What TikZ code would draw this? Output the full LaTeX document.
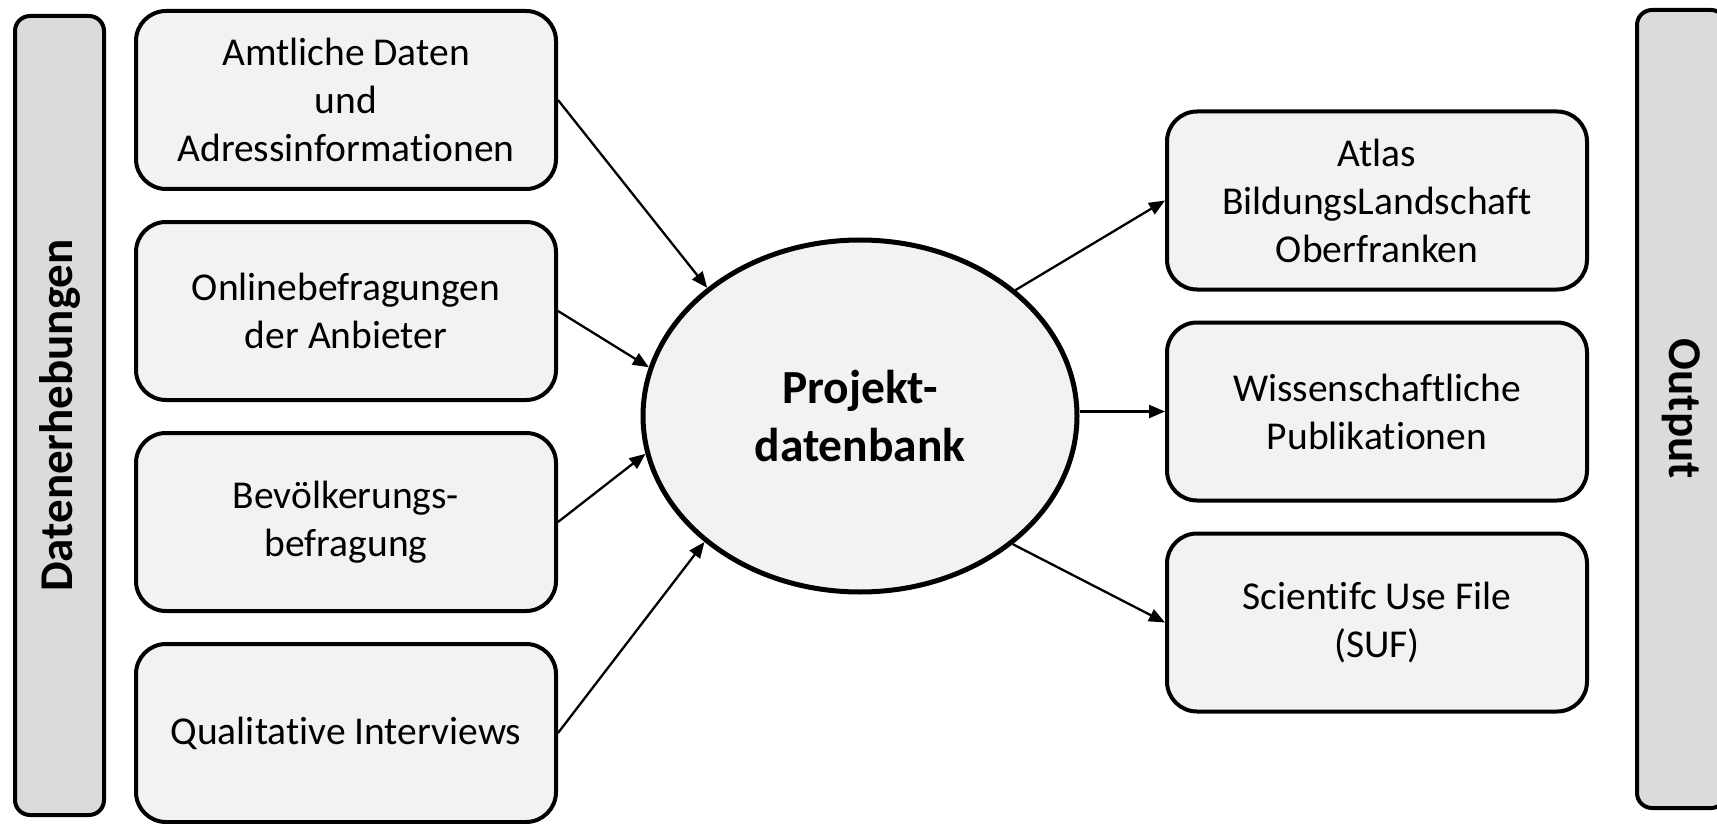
\documentclass[tikz,border=0pt]{standalone}
\usepackage{fontspec}
\setmainfont{Carlito}[Ligatures=CommonOff]
\usetikzlibrary{arrows.meta,shapes.geometric}
\definecolor{boxgray}{HTML}{F2F2F2}
\definecolor{bargray}{HTML}{DBDBDB}
\def \BoxW {420}
\def \BoxH {178}
\tikzstyle{quelle}=[
  draw=black,
  line width=4pt,
  fill=boxgray,
  rounded corners=30pt,
  minimum width=\BoxW,
  minimum height=\BoxH,
  align=center,
  font=\fontsize{39.5}{48}\selectfont
]
\tikzstyle{balken}=[
  draw=black,
  line width=4pt,
  fill=bargray,
  rounded corners=15pt,
  minimum height=89,
  font=\fontsize{47}{56}\selectfont\bfseries
]
\tikzstyle{datenbank}=[
  draw=black,
  ellipse,
  line width=5pt,
  fill=boxgray,
  minimum width=434,
  minimum height=352,
  align=center,
  font=\fontsize{47.5}{58}\selectfont\bfseries
]
\tikzstyle{pfeil}=[
  line width=2.3pt,
  -{Triangle[length=16pt,width=13pt]}
]

\begin{document}
\begin{tikzpicture}[x=1pt,y=-1pt]
  \def \xL {346}
  \def \xR {1377}
  \def \yOff {211}

  \useasboundingbox (0,0) rectangle (1717,824);
  \clip (0,0) rectangle (1717,824);

  \node[balken, rotate=90, minimum width=799] (dat) at (59.5, 415.5) {Datenerhebungen};
  \node[balken, rotate=-90, minimum width=798] (out) at (1681.5, 409) {Output};

  \node[quelle] (q1) at (\xL, 100) {Amtliche Daten\\und\\Adressinformationen};
  \node[quelle] (q2) at (\xL, 100 + \yOff) {Onlinebefragungen\\der Anbieter};
  \node[quelle] (q3) at (\xL, 100 + 2*\yOff) {Bevölkerungs-\\befragung};
  \node[quelle] (q4) at (\xL, 100 + 3*\yOff) {Qualitative Interviews};

  \node[datenbank] (db) at (860, 416) {Projekt-\\datenbank};

  \node[quelle] (o1) at (\xR, 200.5) {Atlas\\BildungsLandschaft\\Oberfranken};
  \node[quelle] (o2) at (\xR, 200.5 + \yOff) {Wissenschaftliche\\Publikationen};
  \node[quelle] (o3) at (\xR, 200.5 + 2*\yOff) {Scientifc Use File\\(SUF)};

  \foreach \i/\w in {1/140.6, 2/167, 3/190.4, 4/219.4}{
    \draw[pfeil] (q\i.east) -- (db.\w);
  }
  \draw[pfeil] (db.39.4) -- (o1.west);
  \draw[pfeil] (db.east |- o2.west) -- (o2.west);
  \draw[pfeil] (db.320.6) -- (o3.west);
\end{tikzpicture}
\end{document}
